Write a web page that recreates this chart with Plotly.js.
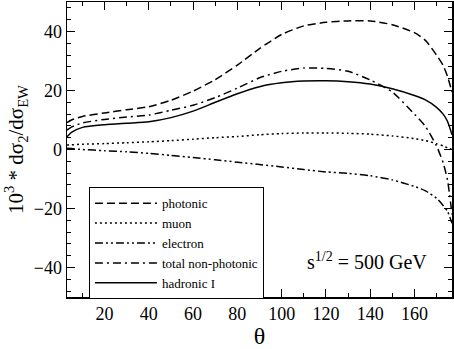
<!DOCTYPE html>
<html>
<head>
<meta charset="utf-8">
<script src="https://cdn.plot.ly/plotly-3.0.1.min.js"></script>
<style>
  html, body { margin: 0; padding: 0; background: #fff; }
  #chart { width: 454px; height: 349px; }
</style>
</head>
<body>
<div id="chart"></div>
<script>
// scattering angle theta (degrees)
const theta = [3, 5, 10, 20, 30, 40, 50, 60, 70, 80, 90, 100, 110, 120, 130, 140, 150, 160, 165, 170, 173, 175, 177];

// 10^3 * dsigma_2/dsigma_EW
const photonic     = [9.1, 10.0, 11.2, 12.4, 13.5, 14.5, 16.7, 19.8, 23.7, 28.6, 34.2, 39.0, 41.9, 43.1, 43.6, 43.6, 42.3, 39.6, 37.0, 32.0, 28.5, 24.7, 19.5];
const muon         = [1.5, 1.6, 1.8, 2.0, 2.3, 2.6, 3.0, 3.5, 4.0, 4.4, 5.0, 5.4, 5.6, 5.6, 5.5, 5.2, 4.6, 3.7, 3.0, 2.0, 1.2, 0.6, 0.0];
const electron     = [0.4, 0.3, 0.0, -0.4, -0.8, -1.3, -2.0, -2.7, -3.5, -4.3, -5.1, -5.9, -6.8, -7.6, -8.1, -8.9, -10.3, -12.5, -14.0, -16.5, -19.0, -21.0, -25.0];
const nonPhotonic  = [6.6, 7.6, 9.0, 10.2, 11.0, 11.7, 13.3, 15.0, 17.6, 20.8, 24.3, 26.5, 27.6, 27.5, 26.5, 23.6, 19.5, 12.0, 7.8, 1.2, -4.5, -10.5, -22.0];
const hadronic     = [4.3, 5.8, 7.5, 8.4, 8.9, 9.4, 10.8, 13.0, 16.0, 18.9, 21.3, 22.6, 23.2, 23.3, 23.0, 22.2, 20.6, 18.3, 16.8, 14.3, 12.0, 9.5, 5.0];

const names = ['photonic', 'muon', 'electron', 'total non-photonic', 'hadronic I'];
const series = [photonic, muon, electron, nonPhotonic, hadronic];
const dashes = ['8px,4px', '2px,3px', '8px,3px,2px,3px,2px,3px', '8px,4px,2px,4px', 'solid'];

const traces = series.map((ys, i) => ({
    x: theta,
    y: ys,
    name: names[i],
    type: 'scatter',
    mode: 'lines',
    line: { color: '#000', width: 1.5, dash: dashes[i], shape: 'spline', smoothing: 0.6 },
}));

const serif = 'Liberation Serif';

const axisCommon = {
    showline: true,
    linecolor: '#000',
    linewidth: 1.5,
    mirror: 'ticks',
    ticks: 'inside',
    ticklen: 8,
    tickwidth: 1,
    tickcolor: '#000',
    showgrid: false,
    zeroline: false,
    tickfont: { family: serif, size: 18, color: '#000' },
};

const layout = {
    width: 454,
    height: 349,
    margin: { l: 67, r: 2, t: 2, b: 52 },
    paper_bgcolor: '#fff',
    plot_bgcolor: '#fff',
    font: { family: serif, color: '#000' },
    xaxis: Object.assign({}, axisCommon, {
        range: [3, 177],
        tick0: 0,
        dtick: 20,
        minor: { dtick: 10, ticks: 'inside', ticklen: 4, tickcolor: '#000' },
        title: { text: 'θ', font: { family: serif, size: 24 }, standoff: 10 },
    }),
    yaxis: Object.assign({}, axisCommon, {
        range: [-50, 50],
        tick0: 0,
        dtick: 20,
        minor: { dtick: 4, ticks: 'inside', ticklen: 4, tickcolor: '#000' },
        title: { text: '10<sup>3</sup> * dσ<sub>2</sub>/dσ<sub>EW</sub>', font: { family: serif, size: 21 }, standoff: 4 },
    }),
    showlegend: true,
    legend: {
        x: 0.057,
        y: 0.372,
        xanchor: 'left',
        yanchor: 'top',
        bgcolor: '#fff',
        bordercolor: '#000',
        borderwidth: 1,
        font: { family: serif, size: 13, color: '#000' },
        tracegroupgap: 0,
        itemwidth: 62,
    },
    annotations: [{
        x: 138.5,
        y: -37.8,
        xref: 'x',
        yref: 'y',
        text: 's<sup>1/2</sup> = 500 GeV',
        showarrow: false,
        font: { family: serif, size: 20, color: '#000' },
    }],
};

Plotly.newPlot('chart', traces, layout, { displayModeBar: false, staticPlot: true });
</script>
</body>
</html>
